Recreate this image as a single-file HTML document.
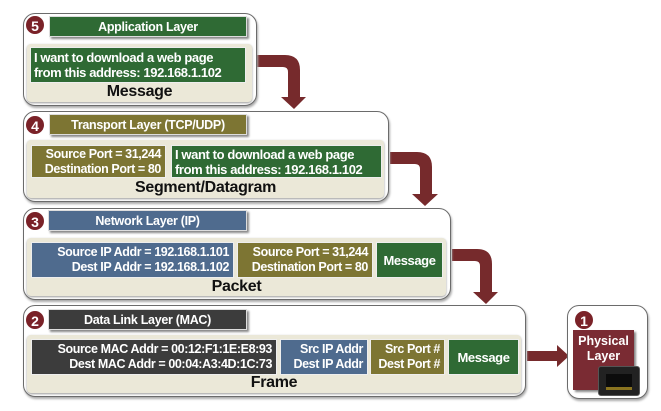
<!DOCTYPE html>
<html><head><meta charset="utf-8"><style>
*{margin:0;padding:0;box-sizing:border-box}
body{width:661px;height:411px;background:#fff;position:relative;overflow:hidden;font-family:"Liberation Sans",Arial,sans-serif;font-weight:bold}
.a{position:absolute}
.box{position:absolute;border:1.5px solid #6b6b6b;border-radius:12px;background:#fff;box-shadow:1px 2px 2px #aaa}
.panel{position:absolute;background:#ebe8d8;border-radius:4px;box-shadow:0 1px 2px #999}
.hd{position:absolute;color:#fff;font-size:12.5px;letter-spacing:-0.3px;text-align:center;line-height:20px;box-shadow:2px 2px 2px #888;border:1px solid #ddd}
.c{position:absolute;width:20px;height:20px;border-radius:50%;background:#7a2228;color:#fff;font-size:14px;text-align:center;line-height:20px;border:1px solid #fff}
.cell{position:absolute;color:#fff;font-size:12.5px;letter-spacing:-0.4px;line-height:15px;border:1px solid #eee;display:flex;flex-direction:column;justify-content:center}
.lbl{position:absolute;font-size:16px;color:#111;text-align:center;letter-spacing:-0.3px}
.g{background:#2f6a34}.o{background:#7d7533}.b{background:#4f6b8e}.d{background:#3c3c3c}
.r{text-align:right;padding-right:4px}
</style></head><body>
<svg class="a" style="left:0;top:0" width="661" height="411">
<g fill="#762a2c">
<path d="M257 55 H285 Q300 55 300 70 V97 H306 L294 109 L281 97 H288 V72 Q288 67 283 67 H257Z"/>
<path d="M390 152 H417 Q432 152 432 167 V194 H438 L425 206 L412 194 H420 V169 Q420 164 415 164 H390Z"/>
<path d="M452 249 H477 Q492 249 492 264 V292 H498 L486 304 L473 292 H480 V266 Q480 261 475 261 H452Z"/>
<path d="M527 351 H557 V345 L569 356 L557 367 V361 H527Z"/>
</g></svg>

<div class="box" style="left:23px;top:13px;width:234px;height:93px"></div>
<div class="panel" style="left:27px;top:44px;width:225px;height:58px"></div>
<div class="hd g" style="left:49px;top:16px;width:198px;height:21px">Application Layer</div>
<div class="c" style="left:25px;top:15px">5</div>
<div class="cell g" style="left:30px;top:47px;width:216px;height:36px;padding-left:3px;font-size:13px">I want to download a web page<br>from this address: 192.168.1.102</div>
<div class="lbl" style="left:27px;top:83px;width:225px">Message</div>

<div class="box" style="left:23px;top:111px;width:366px;height:91px"></div>
<div class="panel" style="left:27px;top:140px;width:357px;height:58px"></div>
<div class="hd o" style="left:49px;top:114px;width:198px;height:21px">Transport Layer (TCP/UDP)</div>
<div class="c" style="left:25px;top:115px">4</div>
<div class="cell o r" style="left:31px;top:145px;width:135px;height:33px">Source Port = 31,244<br>Destination Port = 80</div>
<div class="cell g" style="left:171px;top:145px;width:211px;height:33px;padding-left:3px;font-size:13px">I want to download a web page<br>from this address: 192.168.1.102</div>
<div class="lbl" style="left:27px;top:179px;width:357px">Segment/Datagram</div>

<div class="box" style="left:23px;top:208px;width:428px;height:92px"></div>
<div class="panel" style="left:27px;top:238px;width:419px;height:58px"></div>
<div class="hd b" style="left:48px;top:210px;width:199px;height:21px">Network Layer (IP)</div>
<div class="c" style="left:25px;top:211px">3</div>
<div class="cell b r" style="left:31px;top:242px;width:203px;height:36px">Source IP Addr = 192.168.1.101<br>Dest IP Addr = 192.168.1.102</div>
<div class="cell o r" style="left:237px;top:242px;width:136px;height:36px">Source Port = 31,244<br>Destination Port = 80</div>
<div class="cell g" style="left:376px;top:242px;width:67px;height:36px;text-align:center;font-size:13px">Message</div>
<div class="lbl" style="left:27px;top:278px;width:419px">Packet</div>

<div class="box" style="left:23px;top:305px;width:503px;height:92px"></div>
<div class="panel" style="left:27px;top:335px;width:494px;height:58px"></div>
<div class="hd d" style="left:48px;top:309px;width:199px;height:21px">Data Link Layer (MAC)</div>
<div class="c" style="left:25px;top:310px">2</div>
<div class="cell d r" style="left:31px;top:339px;width:246px;height:36px">Source MAC Addr = 00:12:F1:1E:E8:93<br>Dest MAC Addr = 00:04:A3:4D:1C:73</div>
<div class="cell b r" style="left:280px;top:339px;width:88px;height:36px">Src IP Addr<br>Dest IP Addr</div>
<div class="cell o r" style="left:370px;top:339px;width:75px;height:36px">Src Port #<br>Dest Port #</div>
<div class="cell g" style="left:448px;top:339px;width:71px;height:36px;text-align:center;font-size:13px">Message</div>
<div class="lbl" style="left:27px;top:374px;width:494px">Frame</div>

<div class="box" style="left:567px;top:305px;width:81px;height:94px"></div>
<div class="a" style="left:573px;top:330px;width:61px;height:60px;background:#7a2b33;box-shadow:2px 2px 2px #888"></div>
<div class="a" style="left:573px;top:334px;width:61px;color:#fff;font-size:12.5px;text-align:center;line-height:15px">Physical<br>Layer</div>
<div class="c" style="left:574px;top:310px">1</div>
<div class="a" style="left:598px;top:366px;width:42px;height:30px;background:#222;border-radius:3px;border:1px solid #555"></div>
<div class="a" style="left:606px;top:374px;width:26px;height:16px;background:#0c0c0c;border-bottom:3px solid #8a7420"></div>
</body></html>
